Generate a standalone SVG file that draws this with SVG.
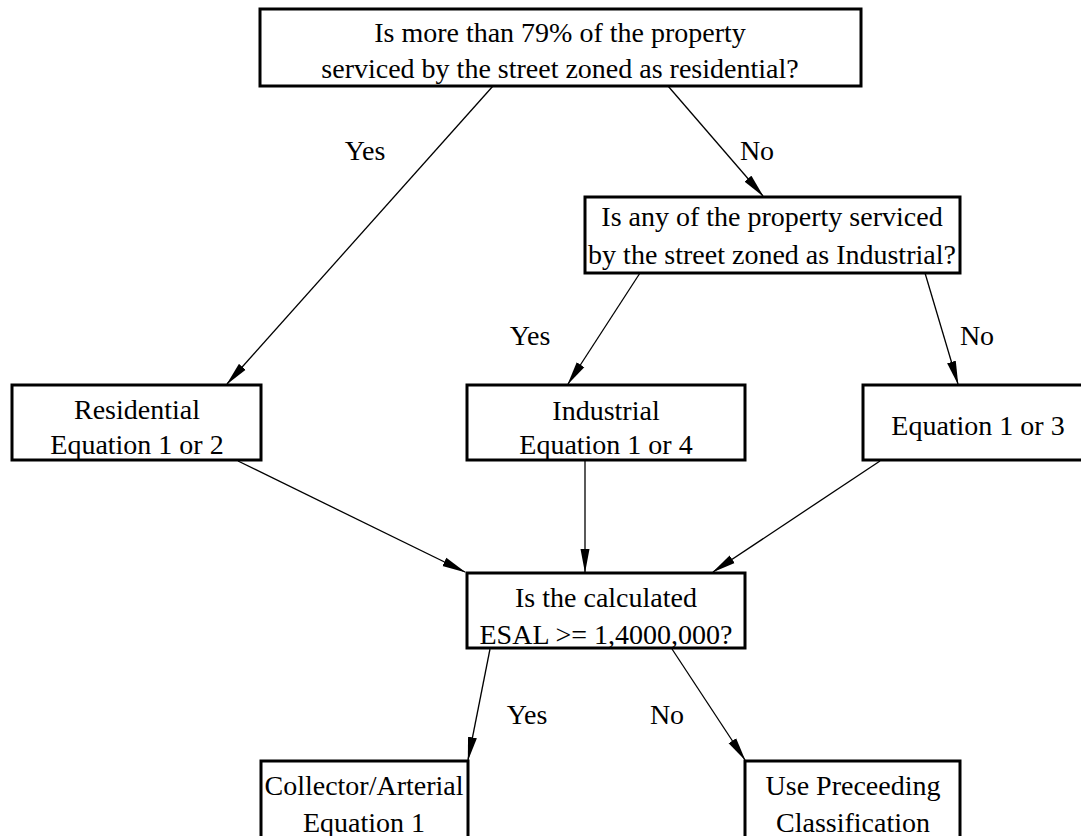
<svg xmlns="http://www.w3.org/2000/svg" width="1081" height="836" viewBox="0 0 1081 836">
<style>
.box{fill:#fff;stroke:#000;stroke-width:3}
.t{font-family:'Liberation Serif','Times New Roman','DejaVu Serif',serif;font-size:28px;fill:#000;text-anchor:middle}
.c{stroke:#000;stroke-width:1.3;fill:none;marker-end:url(#ah)}
</style>
<defs>
<marker id="ah" viewBox="0 0 24 10" refX="23" refY="5" markerWidth="24" markerHeight="10" markerUnits="userSpaceOnUse" orient="auto">
<path d="M0,0.5 L24,5 L0,9.5 z" fill="#000"/>
</marker>
</defs>
<rect width="1081" height="836" fill="#fff"/>
<g id="connectors">
<line class="c" x1="493" y1="86" x2="227" y2="384"/>
<line class="c" x1="668" y1="86" x2="763" y2="196"/>
<line class="c" x1="640" y1="273" x2="568" y2="384"/>
<line class="c" x1="925" y1="273" x2="958" y2="384"/>
<line class="c" x1="238" y1="461" x2="465" y2="572"/>
<line class="c" x1="585" y1="461" x2="585" y2="572"/>
<line class="c" x1="880" y1="461" x2="713" y2="572"/>
<line class="c" x1="490" y1="649" x2="468" y2="760"/>
<line class="c" x1="672" y1="649" x2="745" y2="760"/>
<text class="t" x="365" y="160">Yes</text>
<text class="t" x="757" y="160">No</text>
<text class="t" x="530" y="345">Yes</text>
<text class="t" x="977" y="345">No</text>
<text class="t" x="527" y="724">Yes</text>
<text class="t" x="667" y="724">No</text>
</g>
<g id="n1">
<rect class="box" x="260" y="9" width="601" height="77"/>
<text class="t" x="560" y="42">Is more than 79% of the property</text>
<text class="t" x="560" y="78">serviced by the street zoned as residential?</text>
</g>
<g id="n2">
<rect class="box" x="585" y="197" width="375" height="76"/>
<text class="t" x="772" y="226">Is any of the property serviced</text>
<text class="t" x="772" y="264">by the street zoned as Industrial?</text>
</g>
<g id="n3">
<rect class="box" x="12" y="385" width="249" height="75"/>
<text class="t" x="137" y="419">Residential</text>
<text class="t" x="137" y="454">Equation 1 or 2</text>
</g>
<g id="n4">
<rect class="box" x="467" y="385" width="278" height="75"/>
<text class="t" x="606" y="420">Industrial</text>
<text class="t" x="606" y="454">Equation 1 or 4</text>
</g>
<g id="n5">
<rect class="box" x="863" y="385" width="230" height="75"/>
<text class="t" x="978" y="435">Equation 1 or 3</text>
</g>
<g id="n6">
<rect class="box" x="467" y="573" width="278" height="75"/>
<text class="t" x="606" y="607">Is the calculated</text>
<text class="t" x="606" y="644">ESAL &gt;= 1,4000,000?</text>
</g>
<g id="n7">
<rect class="box" x="261" y="761" width="207" height="80"/>
<text class="t" x="364" y="795">Collector/Arterial</text>
<text class="t" x="364" y="832">Equation 1</text>
</g>
<g id="n8">
<rect class="box" x="745" y="761" width="215" height="80"/>
<text class="t" x="853" y="795">Use Preceeding</text>
<text class="t" x="853" y="832">Classification</text>
</g>
</svg>
